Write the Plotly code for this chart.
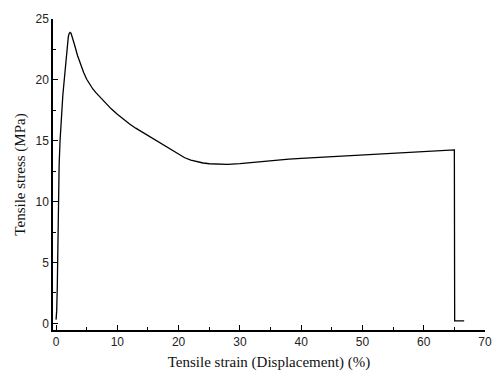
import plotly.graph_objects as go

strain = [0.0, 0.1, 0.2, 0.3, 0.4, 0.5, 0.65, 0.85, 1.1, 1.3, 1.5, 1.7, 1.85, 2.0, 2.15, 2.3, 2.45, 2.7, 3.0, 3.5, 4.0, 4.5,
          5.0, 5.5, 6.0, 6.5, 7.0, 8.0, 9.0, 10, 11, 12, 13, 14, 15, 16, 17, 18, 19, 20, 21, 22, 23,
          24, 25, 26, 27, 28, 30, 32, 35, 38, 40, 45, 50, 55, 60, 63, 65.0, 65.05, 65.3, 66.6]
stress = [0.3, 1.0, 3.0, 8.0, 11.0, 13.0, 15.0, 17.0, 18.7, 19.8, 21.0, 22.2, 23.0, 23.55, 23.82, 23.9, 23.82, 23.45, 22.9, 22.0, 21.25, 20.6,
          20.05, 19.6, 19.25, 18.95, 18.68, 18.12, 17.62, 17.17, 16.76, 16.38, 16.03, 15.72, 15.42, 15.12, 14.82, 14.5, 14.17, 13.86, 13.6, 13.41, 13.27,
          13.17, 13.11, 13.08, 13.06, 13.06, 13.12, 13.22, 13.36, 13.48, 13.55, 13.7, 13.85, 14.0, 14.15, 14.22, 14.25, 0.2, 0.2, 0.2]

x_ticks = [0, 10, 20, 30, 40, 50, 60, 70]
y_ticks = [0, 5, 10, 15, 20, 25]

fig = go.Figure()
fig.add_trace(go.Scatter(x=strain, y=stress, mode="lines",
                         line=dict(color="black", width=1.3), showlegend=False))

axis_common = dict(
    showgrid=False, zeroline=False, showline=True, linecolor="black", linewidth=1.5,
    ticks="inside", ticklen=5, tickwidth=1, tickcolor="black",
    tickfont=dict(family="Liberation Sans, Arial", size=12, color="#222"),
    minor=dict(ticks="inside", ticklen=3, tickwidth=1, tickcolor="black"),
)

fig.update_xaxes(range=[-0.5, 70], tickvals=x_ticks,
                 title=dict(text="Tensile strain (Displacement) (%)",
                            font=dict(family="Liberation Serif, Times New Roman", size=15, color="#111"),
                            standoff=8),
                 **axis_common)
fig.update_xaxes(minor=dict(dtick=5, tick0=0))
fig.update_yaxes(range=[-0.55, 25], tickvals=y_ticks,
                 title=dict(text="Tensile stress (MPa)",
                            font=dict(family="Liberation Serif, Times New Roman", size=15, color="#111"),
                            standoff=6),
                 **axis_common)
fig.update_yaxes(minor=dict(dtick=2.5, tick0=0))

fig.update_layout(width=504, height=380, margin=dict(l=53, r=13, t=12, b=45),
                  plot_bgcolor="white", paper_bgcolor="white")
fig.write_html("out.html")
